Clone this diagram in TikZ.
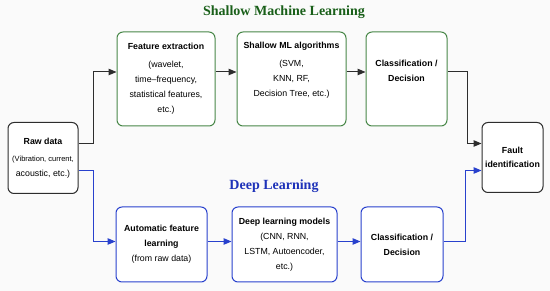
\documentclass[tikz,border=0pt]{standalone}
\usepackage{fontspec}
\setmainfont{Liberation Serif}
\setsansfont{Liberation Sans}
\usetikzlibrary{arrows.meta, calc}

\definecolor{shallowgreen}{RGB}{72,135,72}
\definecolor{shallowtitle}{RGB}{25,95,25}
\definecolor{deepblue}{RGB}{40,65,205}
\definecolor{deeptitle}{RGB}{30,50,185}
\definecolor{linegray}{RGB}{45,45,45}
\definecolor{paper}{RGB}{250,250,250}

\begin{document}
\begin{tikzpicture}[x=1pt, y=-1pt, >={Triangle[length=8pt,width=6.5pt]},
    box/.style={draw, rounded corners=6pt, fill=white, line width=1pt, align=center,
        inner sep=2pt, font=\sffamily\fontsize{8.8}{15}\selectfont},
    title/.style={font=\rmfamily\bfseries\fontsize{14}{16}\selectfont},
    link/.style={->, line width=1pt}]
    \fill[paper] (0,0) rectangle (550,291);
    \useasboundingbox (0,0) rectangle (550,291);

    % titles
    \node[title, text=shallowtitle] (shtitle) at (284,12) {Shallow Machine Learning};
    \node[title, text=deeptitle] (dltitle) at (274,186) {Deep Learning};

    % input and output
    \node[box, draw=linegray, minimum width=70pt, minimum height=71pt] (raw) at (43,158)
        {\textbf{Raw data}\\[2pt] \fontsize{7.5}{14}\selectfont(Vibration, current,\\ acoustic, etc.)};
    \node[box, draw=linegray, minimum width=61pt, minimum height=70pt] (fault) at (512.5,157.5)
        {\textbf{Fault}\\[-1pt] \textbf{identification}};

    % shallow branch
    \node[box, draw=shallowgreen, minimum width=98pt, minimum height=94pt] (feat) at (166,79)
        {\textbf{Feature extraction}\\[3pt] (wavelet,\\ time--frequency,\\ statistical features,\\ etc.)};
    \node[box, draw=shallowgreen, minimum width=109pt, minimum height=94pt] (shml) at (291.5,79)
        {\textbf{Shallow ML algorithms}\\[3pt] (SVM,\\ KNN, RF,\\ Decision Tree, etc.)\\ \strut};
    \node[box, draw=shallowgreen, minimum width=81pt, minimum height=94pt] (clstop) at (406.5,79)
        {\textbf{Classification /}\\ \textbf{Decision}\\[-4pt] \strut};

    % deep branch
    \node[box, draw=deepblue, minimum width=91pt, minimum height=75pt] (auto) at (161.5,244.5)
        {\textbf{Automatic feature}\\ \textbf{learning}\\ (from raw data)};
    \node[box, draw=deepblue, minimum width=105pt, minimum height=75pt] (dlm) at (284.5,244.5)
        {\textbf{Deep learning models}\\ (CNN, RNN,\\ LSTM, Autoencoder,\\ etc.)};
    \node[box, draw=deepblue, minimum width=82pt, minimum height=75pt] (clsbot) at (402,244.5)
        {\textbf{Classification /}\\ \textbf{Decision}};

    % shallow connectors
    \draw[link, linegray] ($(raw.east)+(0,-14)$) -- ++(15,0) |- ($(feat.west)+(0,-7)$);
    \draw[link, linegray] ($(feat.east)+(0,-7)$) -- ($(shml.west)+(0,-7)$);
    \draw[link, linegray] ($(shml.east)+(0,-7)$) -- ($(clstop.west)+(0,-7)$);
    \draw[link, linegray] ($(clstop.east)+(0,-7)$) -- ++(20,0) |- ($(fault.west)+(0,-14)$);

    % deep connectors
    \draw[link, deepblue] ($(raw.east)+(0,13)$) -- ++(15,0) |- ($(auto.west)+(0,-3)$);
    \draw[link, deepblue] ($(auto.east)+(0,-3)$) -- ($(dlm.west)+(0,-3)$);
    \draw[link, deepblue] ($(dlm.east)+(0,-3)$) -- ($(clsbot.west)+(0,-3)$);
    \draw[link, deepblue] ($(clsbot.east)+(0,-3)$) -- ++(22,0) |- ($(fault.west)+(0,13)$);
\end{tikzpicture}
\end{document}
